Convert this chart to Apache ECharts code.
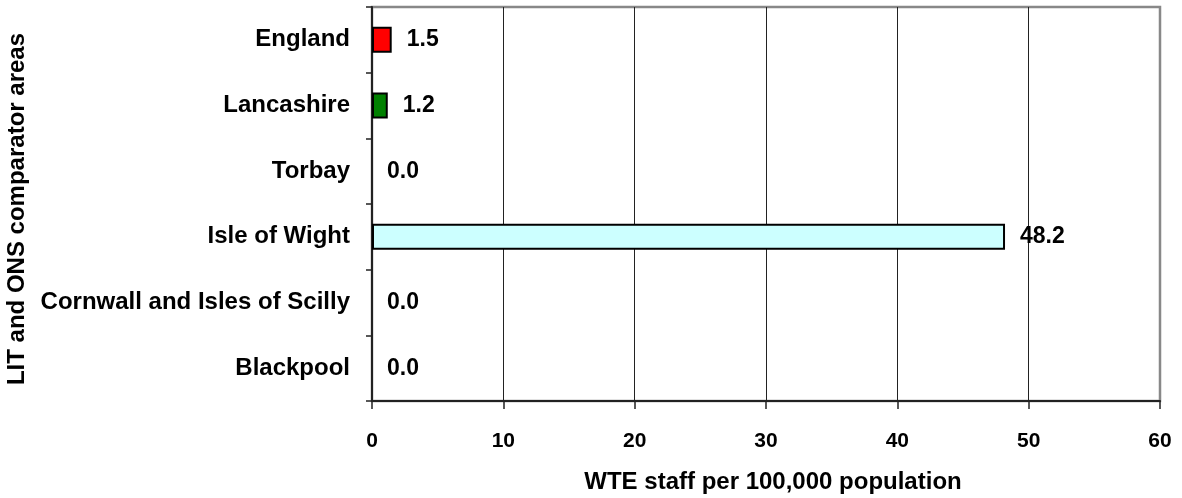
<!DOCTYPE html>
<html>
<head>
<meta charset="utf-8">
<script src="https://cdn.jsdelivr.net/npm/echarts@6/dist/echarts.min.js"></script>
<style>
html,body{margin:0;padding:0;background:#fff;}
#c{width:1182px;height:498px;}
</style>
</head>
<body>
<div id="c"></div>
<script>
const categories = ["England", "Lancashire", "Torbay", "Isle of Wight", "Cornwall and Isles of Scilly", "Blackpool"];
const values = [1.5, 1.2, 0.0, 48.2, 0.0, 0.0];
const barColors = ["#ff0000", "#008000", "#ccffff", "#ccffff", "#ccffff", "#ccffff"];
const xTicks = [0, 10, 20, 30, 40, 50, 60];
const xAxisTitle = "WTE staff per 100,000 population";
const yAxisTitle = "LIT and ONS comparator areas";

const FONT = "'Liberation Sans', Arial, sans-serif";
const chart = echarts.init(document.getElementById('c'), null, {renderer: 'canvas'});
chart.setOption({
  animation: false,
  backgroundColor: '#fff',
  grid: {left: 372, right: 22, top: 7, bottom: 97, show: true, borderColor: '#888', borderWidth: 2.5,
         containLabel: false, outerBoundsMode: 'none'},
  xAxis: {
    type: 'value',
    min: xTicks[0], max: xTicks[xTicks.length - 1], interval: 10,
    name: xAxisTitle, nameLocation: 'middle', nameGap: 69,
    nameTextStyle: {fontFamily: FONT, fontWeight: 'bold', fontSize: 24, color: '#000', padding: [0, 0, 0, 14]},
    axisLine: {show: true, lineStyle: {color: '#222', width: 2}},
    axisTick: {show: true, length: 8, lineStyle: {color: '#222', width: 1.5}},
    axisLabel: {fontFamily: FONT, fontWeight: 'bold', fontSize: 21, color: '#000', margin: 30},
    splitLine: {show: true, lineStyle: {color: ['#222', '#222', '#222', '#222', '#222', '#222', '#888'], width: 1}}
  },
  yAxis: {
    type: 'category', data: categories, inverse: true,
    name: yAxisTitle, nameLocation: 'middle', nameGap: 340, nameRotate: 90,
    nameTextStyle: {fontFamily: FONT, fontWeight: 'bold', fontSize: 24, color: '#000', padding: [0, 10, 0, 0]},
    axisLine: {show: true, lineStyle: {color: '#222', width: 2}},
    axisTick: {show: true, length: 6, alignWithLabel: false, lineStyle: {color: '#222', width: 1.5}},
    axisLabel: {fontFamily: FONT, fontWeight: 'bold', fontSize: 24, color: '#000', margin: 22},
    splitLine: {show: false}
  },
  series: [{
    type: 'bar',
    barWidth: 26,
    data: values.map((v, i) => ({
      value: v,
      itemStyle: {color: barColors[i], borderColor: '#000', borderWidth: v > 0 ? 2 : 0}
    })),
    label: {
      show: true, position: 'right', distance: 15,
      fontFamily: FONT, fontWeight: 'bold', fontSize: 23, color: '#000',
      formatter: p => Number(p.value).toFixed(1)
    }
  }]
});
</script>
</body>
</html>
